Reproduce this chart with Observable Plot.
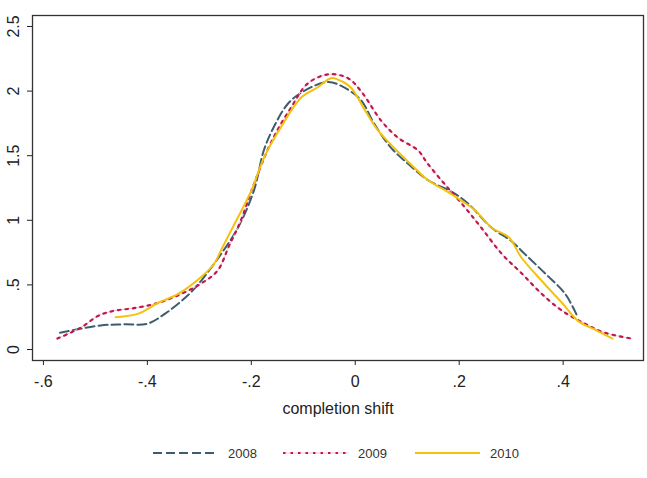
<!DOCTYPE html>
<html>
<head>
<meta charset="utf-8">
<script src="https://cdn.jsdelivr.net/npm/d3@7"></script>
<script src="https://cdn.jsdelivr.net/npm/@observablehq/plot@0.6"></script>
<style>
  body { margin: 0; background: #fff; font-family: "Liberation Sans", Arial, sans-serif; }
  #chart { position: relative; width: 647px; height: 478px; }
  .item { position: absolute; top: 444px; height: 18px; display: flex; align-items: center; font-size: 13px; color: #333; }
  .item svg { margin-right: 10px; }
</style>
</head>
<body>
<div id="chart"></div>
<script>
// Kernel density of completion shift, by year
const years = ["2008", "2009", "2010"];

const x2008 = [-0.568, -0.49, -0.445, -0.40, -0.365, -0.322, -0.297, -0.258, -0.226, -0.195, -0.176, -0.157, -0.13, -0.099, -0.053, -0.027, 0.011, 0.036, 0.069, 0.101, 0.14, 0.186, 0.217, 0.263, 0.30, 0.326, 0.365, 0.404, 0.427];
const y2008 = [0.13, 0.186, 0.195, 0.20, 0.28, 0.42, 0.53, 0.74, 0.94, 1.23, 1.54, 1.72, 1.90, 2.00, 2.07, 2.04, 1.93, 1.75, 1.56, 1.44, 1.31, 1.22, 1.13, 0.94, 0.84, 0.74, 0.59, 0.43, 0.26];

const x2009 = [-0.573, -0.528, -0.495, -0.464, -0.426, -0.38, -0.335, -0.297, -0.265, -0.243, -0.22, -0.195, -0.16, -0.124, -0.091, -0.051, -0.014, 0.011, 0.05, 0.082, 0.121, 0.139, 0.172, 0.211, 0.243, 0.282, 0.32, 0.359, 0.398, 0.442, 0.48, 0.532];
const y2009 = [0.085, 0.17, 0.26, 0.30, 0.32, 0.36, 0.43, 0.51, 0.61, 0.80, 1.0, 1.28, 1.62, 1.87, 2.06, 2.13, 2.10, 2.0, 1.77, 1.64, 1.54, 1.44, 1.28, 1.10, 0.94, 0.74, 0.59, 0.43, 0.30, 0.20, 0.13, 0.085];

const x2010 = [-0.461, -0.416, -0.38, -0.341, -0.297, -0.272, -0.258, -0.239, -0.2, -0.175, -0.143, -0.104, -0.072, -0.047, -0.034, -0.009, 0.016, 0.043, 0.075, 0.113, 0.134, 0.152, 0.178, 0.205, 0.23, 0.263, 0.295, 0.32, 0.359, 0.398, 0.429, 0.463, 0.495];
const y2010 = [0.25, 0.28, 0.36, 0.43, 0.56, 0.66, 0.77, 0.92, 1.23, 1.49, 1.72, 1.95, 2.03, 2.10, 2.09, 2.03, 1.87, 1.70, 1.56, 1.41, 1.33, 1.28, 1.22, 1.15, 1.08, 0.94, 0.87, 0.71, 0.53, 0.36, 0.22, 0.15, 0.085];

const xTicks = [-0.6, -0.4, -0.2, 0, 0.2, 0.4];
const yTicks = [0, 0.5, 1, 1.5, 2, 2.5];

// Stata-style numbers: no leading zero (".5", "-.4")
const fmt = d => d === 0 ? "0" : String(d).replace("0.", ".");

const styles = {
  "2008": {stroke: "#3f5c6e", strokeWidth: 2, strokeDasharray: "9,4"},
  "2009": {stroke: "#c0184a", strokeWidth: 2.2, strokeDasharray: "2.5,5"},
  "2010": {stroke: "#f4c20d", strokeWidth: 2}
};
const pinkBase = "#f2c6d2";

const toRows = (xs, ys, year) => xs.map((x, i) => ({x, y: ys[i], year}));
const series = {
  "2008": toRows(x2008, y2008, "2008"),
  "2009": toRows(x2009, y2009, "2009"),
  "2010": toRows(x2010, y2010, "2010")
};

const chart = Plot.plot({
  width: 647,
  height: 430,
  marginLeft: 32,
  marginTop: 15,
  marginRight: 4,
  marginBottom: 70,
  style: {fontFamily: "'Liberation Sans', Arial, sans-serif", fontSize: "16px", color: "#222", background: "#fff"},
  x: {domain: [-0.621, 0.5546]},
  y: {domain: [-0.085, 2.585]},
  marks: [
    Plot.axisX({ticks: xTicks, tickFormat: fmt, tickSize: 5, tickPadding: 10, fontSize: 16,
      label: "completion shift", labelAnchor: "center", labelArrow: "none", labelOffset: 53}),
    Plot.axisY({ticks: yTicks, tickSize: 5, tickFormat: () => "", label: null}),
    Plot.text(yTicks, {y: d => d, text: fmt, frameAnchor: "left", rotate: -90,
      textAnchor: "middle", lineAnchor: "middle", dx: -19, fontSize: 16, fill: "#222"}),
    Plot.line(series["2008"], {x: "x", y: "y", curve: "catmull-rom", ...styles["2008"]}),
    Plot.line(series["2009"], {x: "x", y: "y", curve: "catmull-rom", stroke: pinkBase, strokeWidth: 1}),
    Plot.line(series["2009"], {x: "x", y: "y", curve: "catmull-rom", ...styles["2009"]}),
    Plot.line(series["2010"], {x: "x", y: "y", curve: "catmull-rom", ...styles["2010"]}),
    Plot.frame({stroke: "#333", strokeWidth: 1.3})
  ]
});

const root = document.getElementById("chart");
root.appendChild(chart);

// Legend row beneath the plot
const legendLeft = [153, 283, 415];
years.forEach((yr, i) => {
  const s = styles[yr];
  const item = document.createElement("div");
  item.className = "item";
  item.style.left = legendLeft[i] + "px";
  const base = yr === "2009" ? `<line x1="0" y1="9" x2="65" y2="9" stroke="${pinkBase}" stroke-width="1"/>` : "";
  item.innerHTML = `<svg width="65" height="18">${base}<line x1="0" y1="9" x2="65" y2="9" stroke="${s.stroke}" stroke-width="${s.strokeWidth}" ${s.strokeDasharray ? `stroke-dasharray="${s.strokeDasharray}"` : ""}/></svg><span>${yr}</span>`;
  root.appendChild(item);
});
</script>
</body>
</html>
